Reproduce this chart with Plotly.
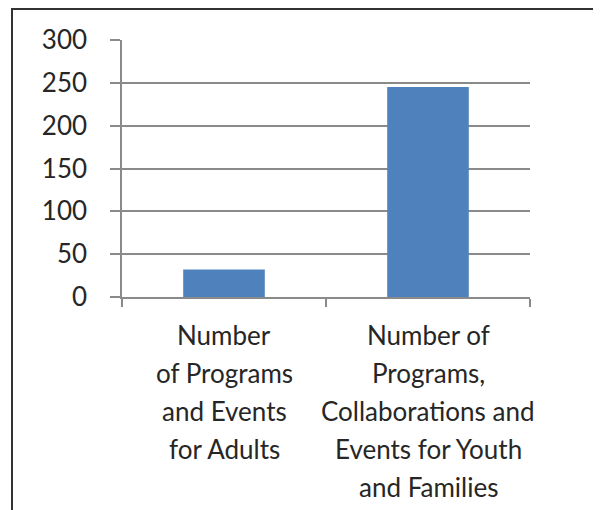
import plotly.graph_objects as go

categories = ["Number\nof Programs\nand Events\nfor Adults",
              "Number of\nPrograms,\nCollaborations and\nEvents for Youth\nand Families"]
values = [32, 245]
y_ticks = [0, 50, 100, 150, 200, 250, 300]

FONT = "Lato"
TXT = "#262626"
GRID = "#8a8a8a"

# page body has an 8px offset; compensate
OFF = 8
W, H = 601 - OFF, 510 - OFF
PL, PR, PT, PB = 122 - OFF, 530 - OFF, 40 - OFF, 297 - OFF
PW, PH = PR - PL, PB - PT

fig = go.Figure(go.Bar(x=categories, y=values, marker=dict(color="#4F81BD", line=dict(width=0))))

annotations = []
for cat in categories:
    for i, line in enumerate(cat.split("\n")):
        annotations.append(dict(x=cat, y=0, xref="x", yref="y", text=line, showarrow=False,
                                xanchor="center", yanchor="middle", yshift=-38 - 38 * i,
                                font=dict(family=FONT, size=26, color=TXT)))

fig.update_layout(
    width=W, height=H,
    margin=dict(l=PL, r=W - PR, t=PT, b=H - PB),
    paper_bgcolor="white", plot_bgcolor="white",
    bargap=0.6, showlegend=False,
    annotations=annotations,
    shapes=[dict(type="rect", xref="paper", yref="paper",
                 x0=(12 - OFF - PL) / PW, x1=(640 - PL) / PW,
                 y0=(PB - 560) / PH, y1=(PB - (9 - OFF)) / PH,
                 line=dict(color="#333333", width=2), layer="above")],
    font=dict(family=FONT, size=26, color=TXT),
)
fig.update_xaxes(range=[-0.5, len(categories) - 0.5], autorange=False,
                 showticklabels=False, showline=True, linecolor=GRID, linewidth=1.5,
                 ticks="outside", tickson="boundaries", ticklen=8, tickcolor=GRID, tickwidth=1.5,
                 showgrid=False)
fig.update_yaxes(range=[0, 300], tickvals=y_ticks, showline=True, linecolor=GRID, linewidth=1.5,
                 showgrid=True, gridcolor=GRID, gridwidth=1.5, zeroline=False,
                 ticks="outside", ticklen=10, tickcolor=GRID, tickwidth=1.5,
                 ticklabelstandoff=18, tickfont=dict(family=FONT, size=26, color=TXT))

fig.write_html("out.html")
